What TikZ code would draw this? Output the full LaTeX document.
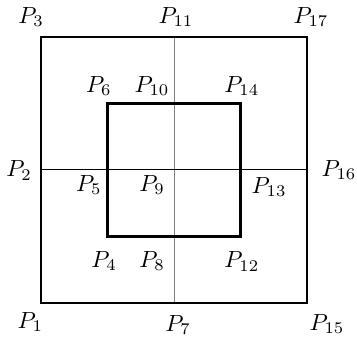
\documentclass[tikz,border=0pt]{standalone}
\begin{document}
\begin{tikzpicture}[x=1cm,y=1cm]
\useasboundingbox (-0.617,-0.632) rectangle (4.752,4.556);
% Punkte
\foreach \n/\x/\y in {1/0/0,2/0/2,3/0/4,4/1/1,5/1/2,6/1/3,7/2/0,8/2/1,9/2/2,
    10/2/3,11/2/4,12/3/1,13/3/2,14/3/3,15/4/0,16/4/2,17/4/4}
    \coordinate (P\n) at (\x,\y);
% Achsenkreuz
\draw[gray,thin] (P7) -- (P11);
\draw[thin] (P2) -- (P16);
% Quadrate
\draw[line width=1.2pt] (P1) -- (P15) -- (P17) -- (P3) -- cycle;
\draw[line width=1.2pt] (P4) -- (P12) -- (P14) -- (P6) -- cycle;
% Beschriftungen
\foreach \n/\dx/\dy in {1/-0.16/-0.29,2/-0.33/-0.01,3/-0.15/0.30,4/-0.05/-0.37,
    5/-0.28/-0.23,6/-0.13/0.26,7/0.06/-0.33,8/-0.33/-0.37,9/-0.33/-0.23,
    10/-0.33/0.26,11/0.03/0.30,12/0.02/-0.38,13/0.43/-0.26,14/0.02/0.26,
    15/0.30/-0.32,16/0.48/0.00,17/0.06/0.30}
    \node[inner sep=0pt] (L\n) at ([shift={(\dx,\dy)}]P\n) {$P_{\n}$};
\end{tikzpicture}
\end{document}
